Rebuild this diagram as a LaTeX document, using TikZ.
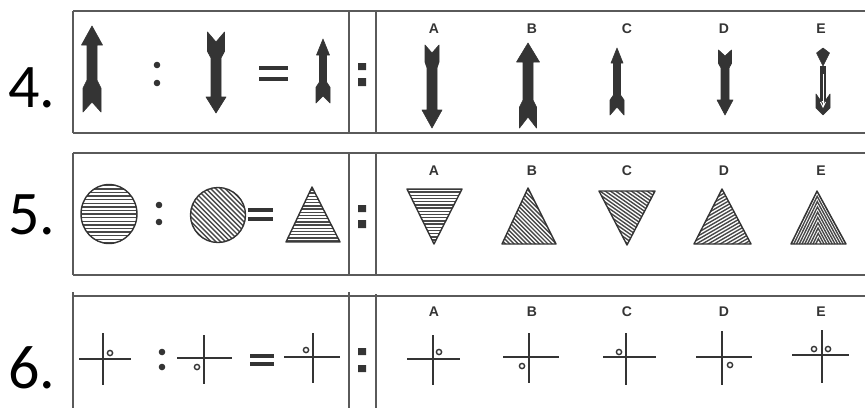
\documentclass[tikz,border=0pt]{standalone}
\usepackage{fontspec}
\newfontfamily\numfont{Carlito}
\newfontfamily\labfont{Liberation Sans}
\usetikzlibrary{calc}

\definecolor{ink}{HTML}{343434}
\definecolor{rule}{HTML}{5a5a5a}

\tikzset{
  panel/.style={draw=rule, line width=1pt},
  arrowfill/.style={fill=ink, draw=ink, line width=0.3pt, line join=round},
  hatch/.style={draw=ink!90, line width=0.7pt},
  outline/.style={draw=ink, line width=0.7pt, line join=round},
  bar/.style={draw=ink, line width=1.7pt},
  crossline/.style={draw=ink, line width=0.85pt},
  ring/.style={draw=ink, fill=white, line width=0.7pt},
  qnum/.style={font=\numfont\fontsize{31}{36}\selectfont, text=black, inner sep=0pt, anchor=west},
  optlab/.style={font=\labfont\bfseries\fontsize{7}{8}\selectfont, text=ink, inner sep=0pt},
}

% arrow: x, tip, head base, fletch start, tail, notch, head half, fletch half, shaft half
\newcommand{\arrowshape}[9]{%
  \fill[arrowfill] (#1,#2) -- (#1+#7,#3) -- (#1+#9,#3) -- (#1+#9,#4)
    -- (#1+#8,{#4+0.25*(#5-#4)}) -- (#1+#8,#5) -- (#1,#6) -- (#1-#8,#5)
    -- (#1-#8,{#4+0.25*(#5-#4)}) -- (#1-#9,#4) -- (#1-#9,#3) -- (#1-#7,#3) -- cycle;}

% hatch: clip path, centre, angle, gap
\newcommand{\hatchfill}[4]{%
  \begin{scope}
    \clip #1;
    \begin{scope}[shift={(#2)}, rotate=#3]
      \foreach \k in {-20,...,20}
        \draw[hatch] (-50,\k*#4) -- (50,\k*#4);
    \end{scope}
  \end{scope}
  \draw[outline] #1;}

% cross: vertical x, horizontal y, left, right, top, bottom
\newcommand{\crossfig}[6]{%
  \draw[crossline] (#3,#2) -- (#4,#2);
  \draw[crossline] (#1,#5) -- (#1,#6);}

\begin{document}
\begin{tikzpicture}[x=0.5pt, y=-0.5pt]
  \useasboundingbox (0,0) rectangle (865,408);

  % question numbers
  \node[qnum] (n4) at (8,88) {4.};
  \node[qnum] (n5) at (8,215) {5.};
  \node[qnum] (n6) at (8,368) {6.};

  % panels
  \draw[panel] (73,11) -- (865,11) (73,133) -- (865,133)
    (73,11) -- (73,133) (349,11) -- (349,133) (376,11) -- (376,133);
  \draw[panel] (73,153) -- (865,153) (73,275) -- (865,275)
    (73,153) -- (73,275) (349,153) -- (349,275) (376,153) -- (376,275);
  \draw[panel] (73,296) -- (865,296)
    (73,292) -- (73,408) (349,292) -- (349,408) (376,294) -- (376,408);

  % option letters
  \foreach \l/\x in {A/434,B/532,C/627,D/724,E/821} {
    \node[optlab] (lab\l4) at (\x,29) {\l};
    \node[optlab] (lab\l5) at (\x,171) {\l};
    \node[optlab] (lab\l6) at (\x,312) {\l};
  }

  % colons, equal signs, square colons
  \fill[ink] (157,65) circle[radius=3.3] (157,83) circle[radius=3.3];
  \fill[ink] (159,205) circle[radius=3.3] (159,222) circle[radius=3.3];
  \fill[ink] (162,352) circle[radius=3.3] (162,367) circle[radius=3.3];
  \draw[bar] (259,68) -- (288,68) (259,79) -- (288,79);
  \draw[bar] (248,210) -- (273,210) (248,219) -- (273,219);
  \draw[bar] (250,356) -- (274,356) (250,364) -- (274,364);
  \fill[ink] (358,63) rectangle (366,70) (358,78) rectangle (366,86);
  \fill[ink] (358,205) rectangle (366,212) (358,220) rectangle (366,228);
  \fill[ink] (358,348) rectangle (366,355) (358,365) rectangle (366,372);

  % row 4: arrows
  \arrowshape{92}{26}{45}{80}{112}{102}{10.5}{9}{5}
  \arrowshape{216}{113}{97}{58}{32}{42}{10}{8.5}{5}
  \arrowshape{323}{39}{55}{82}{103}{96}{6.5}{7}{3.5}
  \arrowshape{432}{128}{110}{68}{45}{53}{10}{7}{5}
  \arrowshape{528}{43}{62}{100}{128}{117}{11.5}{8.5}{5}
  \arrowshape{617}{48}{63}{95}{115}{107}{6}{7}{3.5}
  \arrowshape{725}{115}{100}{68}{50}{56}{8}{6.5}{4}
  % E
  \fill[arrowfill] (823,48) -- (829.5,53) -- (823,66) -- (816.5,53) -- cycle;
  \fill[arrowfill] (820.5,66) rectangle (825.5,100);
  \fill[arrowfill] (816,94) -- (816,108) -- (823,115) -- (830,108) -- (830,94)
    -- (823,104) -- cycle;
  \draw[white, line width=0.5pt] (823,74) -- (823,106);
  \draw[white, line width=0.5pt] (820.5,102) -- (823,107) -- (825.5,102);

  % row 5: hatched shapes
  \hatchfill{(109,214) ellipse [x radius=28, y radius=29.5]}{109,214}{0}{3.6}
  \hatchfill{(218,215) circle [radius=27.5]}{218,215}{-45}{3.4}
  \hatchfill{(312,187) -- (340,242) -- (286,242) -- cycle}{313,225}{0}{3.2}
  \hatchfill{(407,189) -- (462,189) -- (434,244) -- cycle}{434,208}{0}{3.2}
  \hatchfill{(528,188) -- (556,244) -- (502,244) -- cycle}{529,225}{-45}{3}
  \hatchfill{(599,191) -- (655,191) -- (627,245) -- cycle}{627,210}{-35}{3}
  \hatchfill{(722,189) -- (751,244) -- (694,244) -- cycle}{723,225}{30}{3}
  \begin{scope}
    \clip (817,191) -- (846,244) -- (791,244) -- cycle;
    \foreach \s in {1,0.9,...,0.05}
      \draw[hatch] ({818.5-27.5*\s},244) -- ({818.5-1.5*\s},{244-53*\s}) -- ({818.5+27.5*\s},244);
  \end{scope}
  \draw[outline] (817,191) -- (846,244) -- (791,244) -- cycle;

  % row 6: crosses with rings
  \crossfig{103}{359}{79}{131}{333}{385}
  \crossfig{204}{358}{177}{232}{335}{384}
  \crossfig{313}{357}{284}{340}{333}{383}
  \crossfig{433}{359}{407}{460}{335}{385}
  \crossfig{529}{357}{503}{559}{333}{383}
  \crossfig{626}{357}{603}{656}{333}{385}
  \crossfig{722}{357}{696}{752}{331}{385}
  \crossfig{822}{355}{792}{849}{330}{383}
  \draw[ring] (110,353) circle[radius=2.6] (197,367) circle[radius=2.6]
    (306,350) circle[radius=2.6];
  \draw[ring] (439,352) circle[radius=2.6] (522,366) circle[radius=2.6]
    (619,352) circle[radius=2.6] (730,365) circle[radius=2.6]
    (814,349) circle[radius=2.6] (828,349) circle[radius=2.6];
\end{tikzpicture}
\end{document}
